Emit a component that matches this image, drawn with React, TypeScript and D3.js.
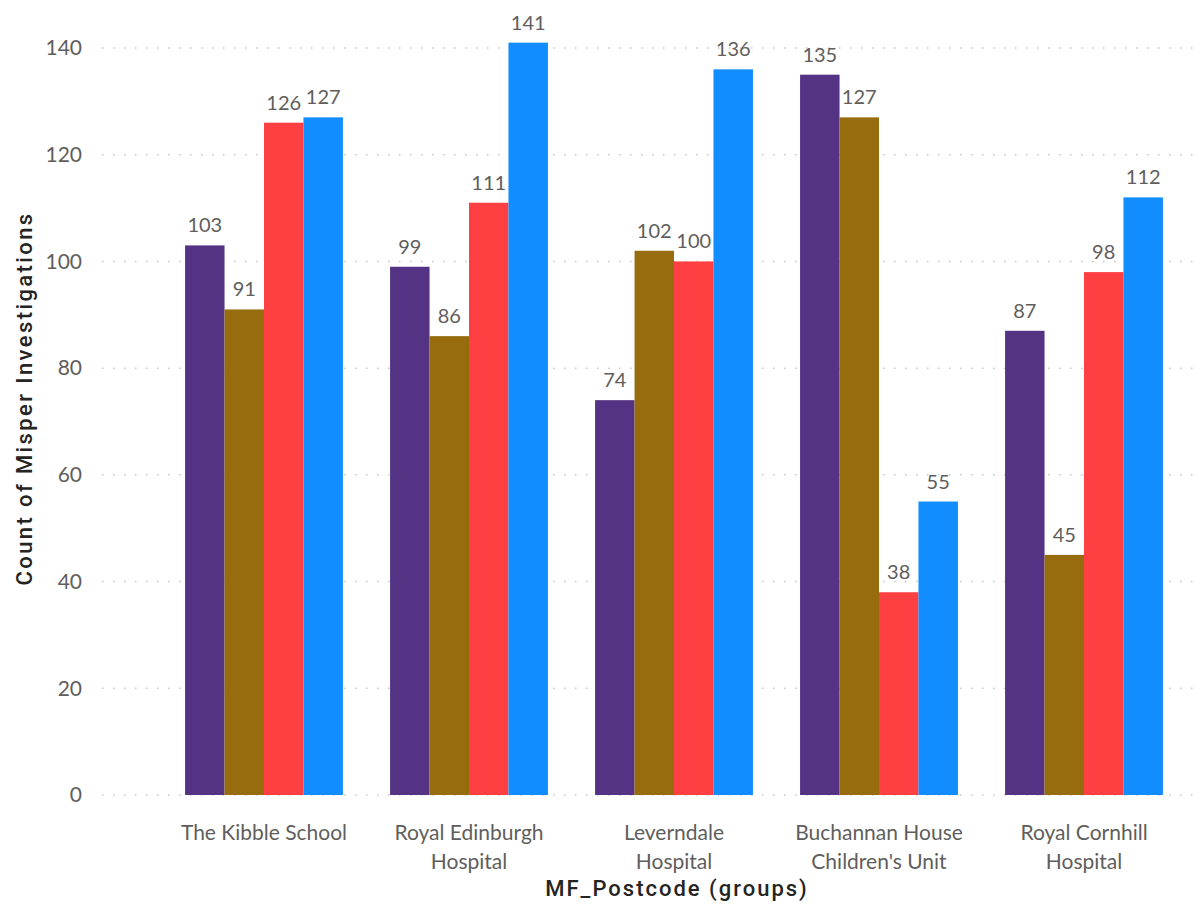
import React from "react";
import * as d3 from "d3";

const categories = [
  ["The Kibble School"],
  ["Royal Edinburgh", "Hospital"],
  ["Leverndale", "Hospital"],
  ["Buchannan House", "Children's Unit"],
  ["Royal Cornhill", "Hospital"],
];

const series1 = [103, 99, 74, 135, 87];
const series2 = [91, 86, 102, 127, 45];
const series3 = [126, 111, 100, 38, 98];
const series4 = [127, 141, 136, 55, 112];

const seriesColors = ["#543284", "#966C0E", "#FE4043", "#118DFF"];
const yTicks = [0, 20, 40, 60, 80, 100, 120, 140];

const width = 1203;
const height = 909;

const tickFont = "'Segoe UI', Lato, 'Noto Sans', sans-serif";
const titleFont = "'DIN', Roboto, 'Noto Sans', sans-serif";

export default function App() {
  const allSeries = [series1, series2, series3, series4];

  const y = d3
    .scaleLinear()
    .domain([0, 140])
    .range([795, 48]);

  const x0 = d3
    .scaleBand<number>()
    .domain(d3.range(categories.length))
    .range([161.5, 1186.5])
    .paddingInner(0.23)
    .paddingOuter(0.115);

  const x1 = d3
    .scaleBand<number>()
    .domain(d3.range(allSeries.length))
    .range([0, x0.bandwidth()]);

  return (
    <div style={{ margin: -8 }}>
      <svg width={width} height={height} style={{ display: "block", background: "#fff" }}>
        {/* gridlines + y ticks */}
        {yTicks.map((t) => (
          <g key={t}>
            <line
              x1={102}
              x2={width}
              y1={y(t)}
              y2={y(t)}
              stroke="#C8C6C4"
              strokeWidth={1.5}
              strokeDasharray="1.5,9.5"
            />
            <text
              x={82}
              y={y(t)}
              dy="0.35em"
              textAnchor="end"
              fontFamily={tickFont}
              fontSize={21}
              fill="#605E5C"
            >
              {t}
            </text>
          </g>
        ))}

        {/* bars */}
        {categories.map((c, i) => (
          <g key={i} transform={`translate(${x0(i)},0)`}>
            {allSeries.map((s, j) => (
              <rect
                key={j}
                x={x1(j)}
                y={y(s[i])}
                width={x1.bandwidth()}
                height={y(0) - y(s[i])}
                fill={seriesColors[j]}
              />
            ))}
            {allSeries.map((s, j) => (
              <text
                key={"l" + j}
                x={(x1(j) || 0) + x1.bandwidth() / 2}
                y={y(s[i]) - 13}
                textAnchor="middle"
                fontFamily={tickFont}
                fontSize={20}
                fill="#605E5C"
              >
                {s[i]}
              </text>
            ))}
          </g>
        ))}

        {/* x labels */}
        {categories.map((c, i) =>
          c.map((line, k) => (
            <text
              key={i + "-" + k}
              x={(x0(i) || 0) + x0.bandwidth() / 2}
              y={840 + k * 29}
              textAnchor="middle"
              fontFamily={tickFont}
              fontSize={21}
              fill="#605E5C"
            >
              {line}
            </text>
          ))
        )}

        {/* axis titles */}
        <text
          x={677}
          y={896}
          textAnchor="middle"
          fontFamily={titleFont}
          fontSize={22}
          fontWeight={500}
          letterSpacing={2}
          fill="#252423"
        >
          MF_Postcode (groups)
        </text>
        <text
          transform={`translate(32,${(y(0) + y(140)) / 2 - 23}) rotate(-90)`}
          textAnchor="middle"
          fontFamily={titleFont}
          fontSize={22}
          fontWeight={500}
          letterSpacing={2.4}
          fill="#252423"
        >
          Count of Misper Investigations
        </text>
      </svg>
    </div>
  );
}
